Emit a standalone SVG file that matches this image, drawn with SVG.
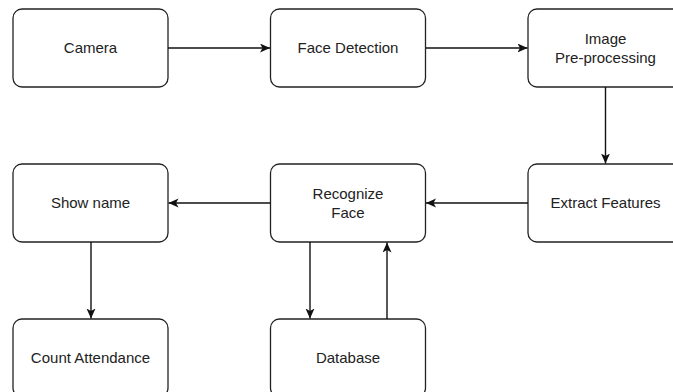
<svg xmlns="http://www.w3.org/2000/svg" width="673" height="392" viewBox="0 0 673 392">
<style>
.box{fill:#fff;stroke:#222;stroke-width:1.3}
.t{font-family:"Liberation Sans",Arial,sans-serif;font-size:15px;fill:#222;text-anchor:middle}
.c{fill:none;stroke:#111;stroke-width:1.4}
</style>
<defs>
<marker id="arr" markerUnits="userSpaceOnUse" markerWidth="12" markerHeight="10" refX="10" refY="4.5" orient="auto">
<path d="M0,0 L10,4.5 L0,9 L2.5,4.5 z" fill="#111"/>
</marker>
</defs>
<rect width="673" height="392" fill="#fff"/>
<g id="camera"><rect class="box" x="13" y="9" width="155" height="78" rx="9"/><text class="t" x="90.5" y="53">Camera</text></g>
<g id="face-detection"><rect class="box" x="270.5" y="9" width="155" height="78" rx="9"/><text class="t" x="348" y="53">Face Detection</text></g>
<g id="image-preprocessing"><rect class="box" x="528" y="9" width="155" height="78" rx="9"/><text class="t" x="605.5" y="43.5">Image</text><text class="t" x="605.5" y="62.5">Pre-processing</text></g>
<g id="extract-features"><rect class="box" x="528" y="164" width="155" height="78" rx="9"/><text class="t" x="605.5" y="208">Extract Features</text></g>
<g id="recognize-face"><rect class="box" x="270.5" y="164" width="155" height="78" rx="9"/><text class="t" x="348" y="198.5">Recognize</text><text class="t" x="348" y="217.5">Face</text></g>
<g id="show-name"><rect class="box" x="13" y="164" width="155" height="78" rx="9"/><text class="t" x="90.5" y="208">Show name</text></g>
<g id="count-attendance"><rect class="box" x="13" y="319" width="155" height="78" rx="9"/><text class="t" x="90.5" y="363">Count Attendance</text></g>
<g id="database"><rect class="box" x="270.5" y="319" width="155" height="78" rx="9"/><text class="t" x="348" y="363">Database</text></g>
<g id="connectors">
<line class="c" x1="168" y1="48" x2="270" y2="48" marker-end="url(#arr)"/>
<line class="c" x1="426" y1="48" x2="527.5" y2="48" marker-end="url(#arr)"/>
<line class="c" x1="605.5" y1="87" x2="605.5" y2="163.5" marker-end="url(#arr)"/>
<line class="c" x1="528" y1="203" x2="426" y2="203" marker-end="url(#arr)"/>
<line class="c" x1="270.5" y1="203" x2="168.5" y2="203" marker-end="url(#arr)"/>
<line class="c" x1="91" y1="242" x2="91" y2="318.5" marker-end="url(#arr)"/>
<line class="c" x1="310" y1="242" x2="310" y2="318.5" marker-end="url(#arr)"/>
<line class="c" x1="387" y1="319" x2="387" y2="242.5" marker-end="url(#arr)"/>
</g>
</svg>
